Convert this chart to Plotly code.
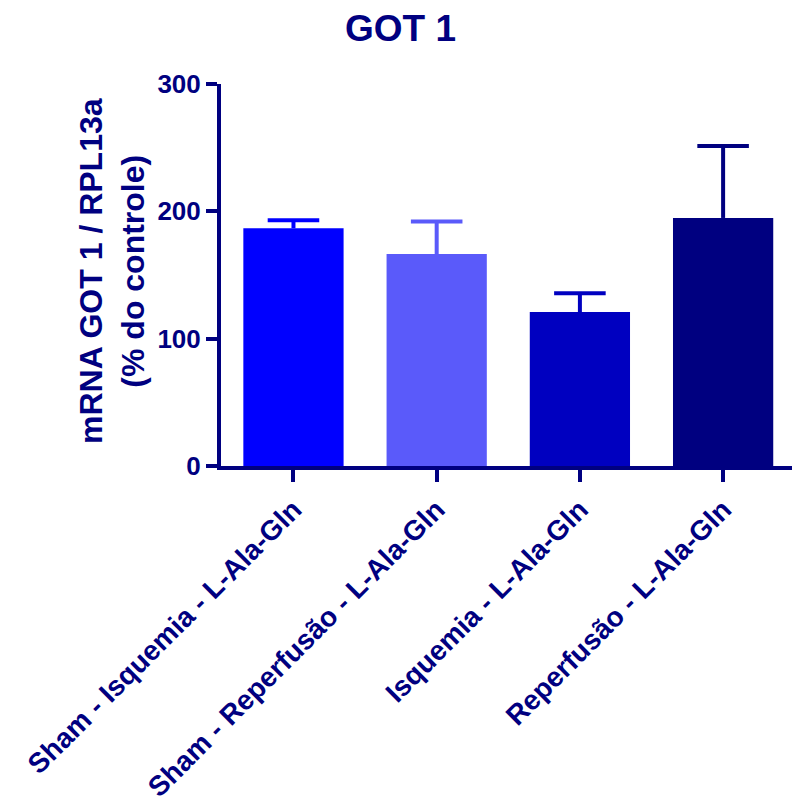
import plotly.graph_objects as go

# Group means and upper SEM bars (% of control)
categories = [
    "Sham - Isquemia - L-Ala-Gln",
    "Sham - Reperfusão - L-Ala-Gln",
    "Isquemia - L-Ala-Gln",
    "Reperfusão - L-Ala-Gln",
]
means = [186.7, 166.5, 120.9, 194.8]
errors = [6.3, 25.5, 14.8, 56.5]
bar_colors = ["#0000FF", "#5A5AFA", "#0000C0", "#000080"]
y_ticks = [0, 100, 200, 300]

NAVY = "#000080"
FONT = "Liberation Sans, Arial, Helvetica, sans-serif"
CAP_HALF = 0.18  # half-width of the error-bar cap, in category units

fig = go.Figure()
for i, (cat, m, e, c) in enumerate(zip(categories, means, errors, bar_colors)):
    fig.add_trace(go.Bar(
        x=[i], y=[m], width=0.70,
        marker=dict(color=c, line=dict(width=0)),
        showlegend=False, name=cat, hoverinfo="skip",
    ))
    # upper error bar: stem from the bar top plus a horizontal cap
    top = m + e
    fig.add_trace(go.Scatter(
        x=[i, i, None, i - CAP_HALF, i + CAP_HALF],
        y=[m, top, None, top, top],
        mode="lines", line=dict(color=c, width=4),
        showlegend=False, hoverinfo="skip",
    ))

fig.update_layout(
    width=792, height=807,
    margin=dict(l=221, r=0, t=84, b=341),
    paper_bgcolor="white", plot_bgcolor="white",
    font=dict(family=FONT, color=NAVY, weight="bold"),
    showlegend=False,
    title=dict(text="GOT 1", x=400.5 / 792, xanchor="center",
               y=1 - 28 / 807, yanchor="middle",
               font=dict(size=37, family=FONT, color=NAVY, weight="bold")),
)

fig.update_xaxes(
    range=[-0.506, 3.481], automargin=False,
    tickmode="array", tickvals=list(range(len(categories))), ticktext=categories,
    tickangle=-45,
    tickfont=dict(size=28, family=FONT, color=NAVY, weight="bold"),
    showline=True, linecolor=NAVY, linewidth=4,
    ticks="outside", ticklen=12, tickwidth=4, tickcolor=NAVY,
    showgrid=False, zeroline=False, fixedrange=True,
)
fig.update_yaxes(
    range=[0, 300], automargin=False,
    tickmode="array", tickvals=y_ticks, ticktext=[str(v) for v in y_ticks],
    tickfont=dict(size=26, family=FONT, color=NAVY, weight="bold"),
    showline=True, linecolor=NAVY, linewidth=4,
    ticks="outside", ticklen=11, tickwidth=4, tickcolor=NAVY,
    showgrid=False, zeroline=False, fixedrange=True,
)

fig.add_annotation(
    text="mRNA GOT 1 / RPL13a<br>(% do controle)",
    xref="paper", yref="paper", x=(112 - 221) / 571, y=(466 - 271) / 382,
    xanchor="center", yanchor="middle", textangle=-90, showarrow=False,
    font=dict(size=32, family=FONT, color=NAVY, weight="bold"),
)

fig.write_html("out.html")
